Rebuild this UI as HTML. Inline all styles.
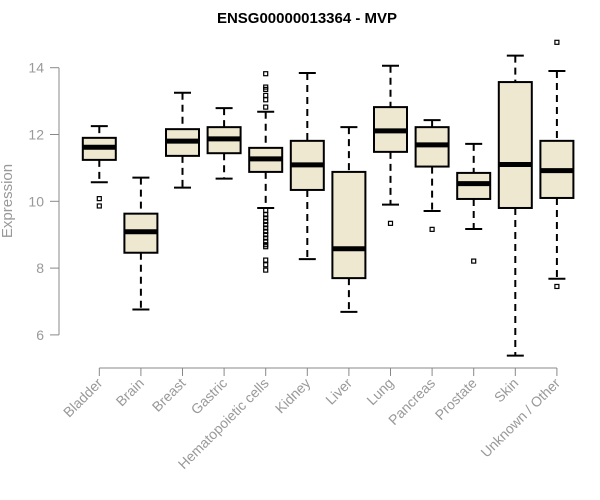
<!DOCTYPE html>
<html><head><meta charset="utf-8"><style>
body{margin:0;background:#fff;width:600px;height:500px;overflow:hidden}
svg{display:block;font-family:"Liberation Sans",Arial,sans-serif}
</style></head><body>
<svg id="chart" width="600" height="500">
<text x="307" y="23" text-anchor="middle" font-weight="bold" font-size="15" fill="#000">ENSG00000013364 - MVP</text>
<text x="12" y="201" text-anchor="middle" font-size="15" fill="#999" transform="rotate(-90 12 201)">Expression</text>
</svg>
<script>
const categories=["Bladder","Brain","Breast","Gastric","Hematopoietic cells","Kidney","Liver","Lung","Pancreas","Prostate","Skin","Unknown / Other"];
const whiskerLo=[10.57,6.76,10.41,10.68,9.8,8.27,6.69,9.9,9.71,9.17,5.38,7.68];
const q1=[11.24,8.46,11.36,11.44,10.88,10.34,7.7,11.48,11.04,10.07,9.8,10.1];
const medians=[11.62,9.09,11.8,11.87,11.27,11.09,8.58,12.11,11.69,10.53,11.1,10.92];
const q3=[11.9,9.63,12.16,12.22,11.6,11.81,10.88,12.82,12.22,10.85,13.57,11.81];
const whiskerHi=[12.25,10.71,13.25,12.79,12.68,13.84,12.22,14.06,12.43,11.72,14.36,13.9];
const outliers=[[10.08,9.86],[],[],[],[13.82,13.42,13.35,13.17,13.04,12.82,9.73,9.6,9.5,9.4,9.3,9.2,9.1,9.0,8.9,8.8,8.7,8.64,8.24,8.1,7.94],[],[],[9.34],[9.16],[8.21],[],[14.76,7.45]];
const yTicks=[6,8,10,12,14];
const svg=document.getElementById('chart');
const NS='http://www.w3.org/2000/svg';
const y=v=>67.7+(14-v)*33.4;
const x=i=>99.3+i*41.6;
function mk(t,a,p){const e=document.createElementNS(NS,t);for(const k in a)e.setAttribute(k,a[k]);(p||svg).appendChild(e);return e;}
let ax=mk('line',{x1:59,x2:59,y1:y(14),y2:y(6),stroke:'#888','stroke-width':1});


yTicks.forEach(t=>{
  const l=mk('line',{x1:50,x2:59,y1:y(t),y2:y(t),stroke:'#888'});
  
  
  const tx=mk('text',{x:44,y:y(t)+5,'text-anchor':'end','font-size':14,fill:'#999'});
  tx.textContent=t;
  
  
});
let xa=mk('line',{x1:x(0),x2:x(categories.length-1),y1:368,y2:368,stroke:'#888'});


categories.forEach((c,i)=>{
  const cx=x(i),hw=16.5;
  const tk=mk('line',{x1:cx,x2:cx,y1:368,y2:376,stroke:'#888'});
  
  
  const lb=mk('text',{x:cx+4,y:384,'text-anchor':'end','font-size':14,fill:'#999',transform:`rotate(-45 ${cx+4} 384)`});
  lb.textContent=c;
  
  
  const g=mk('g',{});
  
  
  mk('line',{x1:cx,x2:cx,y1:y(whiskerHi[i]),y2:y(q3[i]),stroke:'#000','stroke-width':2,'stroke-dasharray':'7,5'},g);
  mk('line',{x1:cx,x2:cx,y1:y(q1[i]),y2:y(whiskerLo[i]),stroke:'#000','stroke-width':2,'stroke-dasharray':'7,5'},g);
  mk('line',{x1:cx-8.5,x2:cx+8.5,y1:y(whiskerHi[i]),y2:y(whiskerHi[i]),stroke:'#000','stroke-width':2},g);
  mk('line',{x1:cx-8.5,x2:cx+8.5,y1:y(whiskerLo[i]),y2:y(whiskerLo[i]),stroke:'#000','stroke-width':2},g);
  mk('rect',{x:cx-hw,y:y(q3[i]),width:2*hw,height:y(q1[i])-y(q3[i]),fill:'#ede8cf',stroke:'#000','stroke-width':2},g);
  mk('line',{x1:cx-hw,x2:cx+hw,y1:y(medians[i]),y2:y(medians[i]),stroke:'#000','stroke-width':5},g);
  outliers[i].forEach(v=>{
    const o=mk('rect',{x:cx-2,y:y(v)-2,width:4,height:4,fill:'none',stroke:'#000','stroke-width':1.2},g);
    
    
  });
});
</script>
</body></html>
